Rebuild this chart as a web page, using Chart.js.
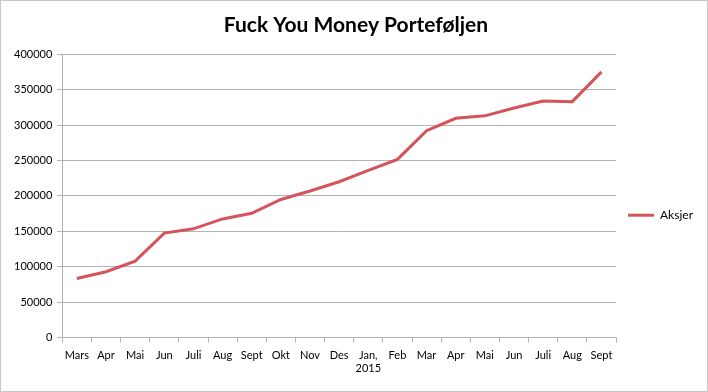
<!DOCTYPE html>
<html>
<head>
<meta charset="utf-8">
<script src="https://cdn.jsdelivr.net/npm/chart.js@4/dist/chart.umd.min.js"></script>
<style>
    html, body { margin: 0; padding: 0; background: #ffffff; }
    #wrap { width: 706px; height: 390px; border: 1px solid #c8c8c8; position: relative; }
</style>
</head>
<body>
<div id="wrap"><canvas id="chart"></canvas></div>
<script>
// months, March 2014 to September 2015
const MONTHS = [
    "Mars", "Apr", "Mai", "Jun", "Juli", "Aug", "Sept", "Okt", "Nov", "Des",
    ["Jan,", "2015"], "Feb", "Mar", "Apr", "Mai", "Jun", "Juli", "Aug", "Sept"
];

// portfolio value (NOK)
const AKSJER = [
    83500, 93000, 108000, 147500, 153500, 167500, 175500, 195000, 207000, 220000,
    236000, 251500, 292000, 309500, 313000, 324000, 334000, 333000, 375000
];

const Y_TICKS = [0, 50000, 100000, 150000, 200000, 250000, 300000, 350000, 400000];

const LINE_COLOR = "#d5545b";
const GRID_COLOR = "#b3b3b3";

function main() {
    Chart.defaults.font.family = "Lato";
    Chart.defaults.font.size = 11;
    Chart.defaults.color = "#000000";

    const ctx = document.getElementById("chart").getContext("2d");

    new Chart(ctx, {
        type: "line",
        data: {
            labels: MONTHS,
            datasets: [
                {
                    label: "Aksjer",
                    data: AKSJER,
                    borderColor: LINE_COLOR,
                    backgroundColor: LINE_COLOR,
                    borderWidth: 3,
                    pointRadius: 0,
                    tension: 0,
                    pointStyle: "line"
                }
            ]
        },
        options: {
            responsive: true,
            maintainAspectRatio: false,
            animation: false,
            layout: {
                padding: { left: 8, right: 4, top: 2, bottom: 10 }
            },
            plugins: {
                title: {
                    display: true,
                    text: "Fuck You Money Porteføljen",
                    font: { size: 21, weight: "bold" },
                    color: "#000000",
                    padding: { top: 10, bottom: 16 }
                },
                legend: {
                    position: "right",
                    // empty title just pushes the entry down a bit, like the original
                    title: {
                        display: true,
                        text: "",
                        font: { size: 12 },
                        padding: { top: 0, bottom: 32 }
                    },
                    labels: {
                        usePointStyle: true,
                        pointStyle: "line",
                        pointStyleWidth: 26,
                        boxWidth: 26,
                        boxHeight: 3,
                        padding: 12,
                        font: { size: 12 }
                    }
                },
                tooltip: { enabled: false }
            },
            scales: {
                x: {
                    offset: true,
                    grid: {
                        offset: true,
                        drawOnChartArea: false,
                        drawTicks: true,
                        tickLength: 5,
                        color: GRID_COLOR
                    },
                    border: { color: GRID_COLOR },
                    ticks: {
                        maxRotation: 0,
                        autoSkip: false,
                        padding: 6
                    }
                },
                y: {
                    min: 0,
                    max: 400000,
                    afterBuildTicks: axis => {
                        axis.ticks = Y_TICKS.map(v => ({ value: v }));
                    },
                    grid: {
                        color: GRID_COLOR,
                        tickLength: 5
                    },
                    border: { color: GRID_COLOR },
                    ticks: {
                        callback: v => String(v),
                        padding: 5
                    }
                }
            }
        }
    });
}

main();
</script>
</body>
</html>
